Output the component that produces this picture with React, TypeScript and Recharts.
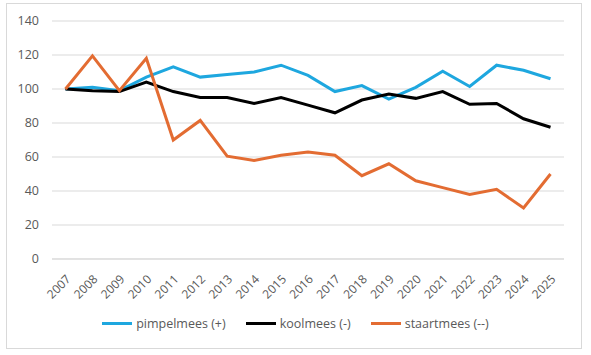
import React from "react";
import { LineChart, Line, XAxis, YAxis, CartesianGrid } from "recharts";

const years = [
  "2007", "2008", "2009", "2010", "2011", "2012", "2013", "2014", "2015", "2016",
  "2017", "2018", "2019", "2020", "2021", "2022", "2023", "2024", "2025",
];
const pimpelmees = [100, 101, 99, 107, 113, 107, 108.5, 110, 114, 108, 98.5, 102, 94, 101, 110.5, 101.5, 114, 111, 106];
const koolmees = [100, 99, 98.5, 104, 98.5, 95, 95, 91.5, 95, 90.5, 86, 93.5, 97, 94.5, 98.5, 91, 91.5, 82.5, 77.5];
const staartmees = [100, 119.5, 99, 118, 70, 81.5, 60.5, 58, 61, 63, 61, 49, 56, 46, 42, 38, 41, 30, 50];
const yTicks = [0, 20, 40, 60, 80, 100, 120, 140];

const seriesInfo = [
  { key: "pimpelmees", name: "pimpelmees (+)", color: "#1ea7df" },
  { key: "koolmees", name: "koolmees (-)", color: "#000000" },
  { key: "staartmees", name: "staartmees (--)", color: "#e36c32" },
];

const data = years.map((year, i) => ({
  year,
  pimpelmees: pimpelmees[i],
  koolmees: koolmees[i],
  staartmees: staartmees[i],
}));

const font = "'Open Sans', sans-serif";
const textColor = "#595959";

function YearTick(props: any) {
  const { x, y, payload } = props;
  return (
    <g transform={`translate(${x + 3},${y + 10}) rotate(-45)`}>
      <text x={0} y={0} dy="0.35em" textAnchor="end" fill={textColor} fontSize={12} fontFamily={font}>
        {payload.value}
      </text>
    </g>
  );
}

// legend drawn as plain html under the plot
function ChartLegend() {
  return (
    <div
      style={{
        position: "absolute",
        left: 0,
        top: 315,
        width: 591,
        display: "flex",
        justifyContent: "center",
        alignItems: "center",
        fontFamily: font,
        fontSize: 12.5,
        color: textColor,
      }}
    >
      {seriesInfo.map((s, i) => (
        <div key={s.key} style={{ display: "flex", alignItems: "center", marginLeft: i === 0 ? 0 : 20 }}>
          <span style={{ display: "inline-block", width: 30, height: 3, background: s.color, marginRight: 4 }} />
          <span>{s.name}</span>
        </div>
      ))}
    </div>
  );
}

export default function App() {
  return (
    <div style={{ position: "absolute", left: 0, top: 0, width: 591, height: 355, background: "#fff" }}>
      <div style={{ position: "absolute", left: 6, top: 3, width: 574, height: 344, border: "1px solid #d9d9d9" }} />
      <LineChart width={591} height={355} data={data} margin={{ top: 21, right: 27, bottom: 0, left: 0 }}>
        <CartesianGrid vertical={false} stroke="#d9d9d9" />
        <XAxis
          dataKey="year"
          height={96}
          padding={{ left: 13.5, right: 13.5 }}
          tickLine={false}
          axisLine={{ stroke: "#d9d9d9" }}
          interval={0}
          tick={<YearTick />}
        />
        <YAxis
          width={52}
          domain={[0, 140]}
          ticks={yTicks}
          axisLine={false}
          tickLine={false}
          tickSize={0}
          tickMargin={13}
          tick={{ fill: textColor, fontSize: 12.5, fontFamily: font }}
        />
        {seriesInfo.map((s) => (
          <Line
            key={s.key}
            type="linear"
            dataKey={s.key}
            name={s.name}
            stroke={s.color}
            strokeWidth={3}
            dot={false}
            isAnimationActive={false}
          />
        ))}
      </LineChart>
      <ChartLegend />
    </div>
  );
}
